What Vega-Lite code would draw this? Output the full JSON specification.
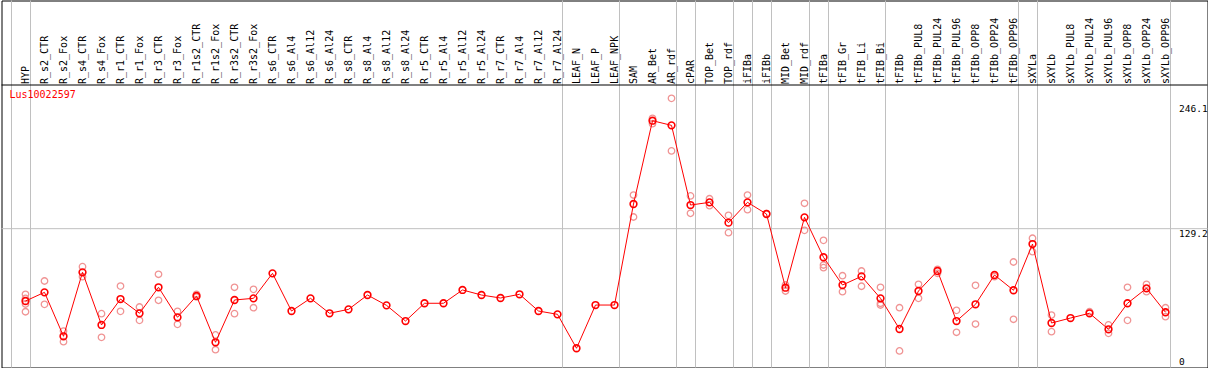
{
  "$schema": "https://vega.github.io/schema/vega-lite/v6.json",
  "width": 1206,
  "height": 367,
  "autosize": {"type": "none"},
  "padding": {"left": 1.5, "top": 0.5, "right": 0, "bottom": 0},
  "background": "white",
  "config": {"view": {"stroke": "#000000", "strokeWidth": 1}, "font": "DejaVu Sans Mono"},
  "title": {"text": "Lus10022597", "color": "#ff0000", "anchor": "start", "frame": "group", "font": "DejaVu Sans Mono", "fontSize": 10, "fontWeight": "normal", "baseline": "top", "offset": 0, "dx": 8, "dy": 100},
  "datasets": {
    "means": [
      {"col": "HYP", "v": 59.1}, {"col": "R_s2_CTR", "v": 67.5}, {"col": "R_s2_Fox", "v": 24.9}, {"col": "R_s4_CTR", "v": 86.9},
      {"col": "R_s4_Fox", "v": 35.9}, {"col": "R_r1_CTR", "v": 61.0}, {"col": "R_r1_Fox", "v": 47.2}, {"col": "R_r3_CTR", "v": 72.4},
      {"col": "R_r3_Fox", "v": 43.3}, {"col": "R_r1s2_CTR", "v": 64.0}, {"col": "R_r1s2_Fox", "v": 19.1}, {"col": "R_r3s2_CTR", "v": 60.1},
      {"col": "R_r3s2_Fox", "v": 61.7}, {"col": "R_s6_CTR", "v": 85.9}, {"col": "R_s6_Al4", "v": 49.4}, {"col": "R_s6_Al12", "v": 61.7},
      {"col": "R_s6_Al24", "v": 47.2}, {"col": "R_s8_CTR", "v": 51.0}, {"col": "R_s8_Al4", "v": 64.9}, {"col": "R_s8_Al12", "v": 54.9},
      {"col": "R_s8_Al24", "v": 39.7}, {"col": "R_r5_CTR", "v": 56.9}, {"col": "R_r5_Al4", "v": 56.9}, {"col": "R_r5_Al12", "v": 69.8},
      {"col": "R_r5_Al24", "v": 64.9}, {"col": "R_r7_CTR", "v": 62.0}, {"col": "R_r7_Al4", "v": 65.6}, {"col": "R_r7_Al12", "v": 49.4},
      {"col": "R_r7_Al24", "v": 46.2}, {"col": "LEAF_N", "v": 13.3}, {"col": "LEAF_P", "v": 55.2}, {"col": "LEAF_NPK", "v": 55.2},
      {"col": "SAM", "v": 153.1}, {"col": "AR_Bet", "v": 233.8}, {"col": "AR_rdf", "v": 229.3}, {"col": "cPAR", "v": 152.1},
      {"col": "TOP_Bet", "v": 154.7}, {"col": "TOP_rdf", "v": 135.0}, {"col": "iFIBa", "v": 154.7}, {"col": "iFIBb", "v": 143.4},
      {"col": "MID_Bet", "v": 72.0}, {"col": "MID_rdf", "v": 140.2}, {"col": "tFIBa", "v": 101.5}, {"col": "tFIB_Gr", "v": 74.6},
      {"col": "tFIB_Li", "v": 83.0}, {"col": "tFIB_Bi", "v": 61.7}, {"col": "tFIBb", "v": 32.0}, {"col": "tFIBb_PUL8", "v": 68.8},
      {"col": "tFIBb_PUL24", "v": 88.2}, {"col": "tFIBb_PUL96", "v": 39.7}, {"col": "tFIBb_OPP8", "v": 55.9}, {"col": "tFIBb_OPP24", "v": 84.3},
      {"col": "tFIBb_OPP96", "v": 69.5}, {"col": "sXYLa", "v": 114.3}, {"col": "sXYLb", "v": 37.8}, {"col": "sXYLb_PUL8", "v": 42.6},
      {"col": "sXYLb_PUL24", "v": 47.2}, {"col": "sXYLb_PUL96", "v": 31.7}, {"col": "sXYLb_OPP8", "v": 56.9}, {"col": "sXYLb_OPP24", "v": 71.4},
      {"col": "sXYLb_OPP96", "v": 48.2}
    ],
    "reps": [
      {"col": "HYP", "v": 65.6}, {"col": "HYP", "v": 61.7}, {"col": "HYP", "v": 56.2}, {"col": "HYP", "v": 48.7},
      {"col": "R_s2_CTR", "v": 78.5}, {"col": "R_s2_CTR", "v": 55.9},
      {"col": "R_s2_Fox", "v": 30.0}, {"col": "R_s2_Fox", "v": 19.7},
      {"col": "R_s4_CTR", "v": 92.4}, {"col": "R_s4_CTR", "v": 82.7},
      {"col": "R_s4_Fox", "v": 46.8}, {"col": "R_s4_Fox", "v": 23.9},
      {"col": "R_r1_CTR", "v": 73.6}, {"col": "R_r1_CTR", "v": 49.1},
      {"col": "R_r1_Fox", "v": 53.3}, {"col": "R_r1_Fox", "v": 40.4},
      {"col": "R_r3_CTR", "v": 85.0}, {"col": "R_r3_CTR", "v": 59.8},
      {"col": "R_r3_Fox", "v": 49.1}, {"col": "R_r3_Fox", "v": 36.5},
      {"col": "R_r1s2_CTR", "v": 65.6}, {"col": "R_r1s2_CTR", "v": 63.0},
      {"col": "R_r1s2_Fox", "v": 26.2}, {"col": "R_r1s2_Fox", "v": 11.9},
      {"col": "R_r3s2_CTR", "v": 72.4}, {"col": "R_r3s2_CTR", "v": 46.8},
      {"col": "R_r3s2_Fox", "v": 70.4}, {"col": "R_r3s2_Fox", "v": 52.6},
      {"col": "SAM", "v": 161.8}, {"col": "SAM", "v": 140.5},
      {"col": "AR_Bet", "v": 236.1}, {"col": "AR_Bet", "v": 230.9},
      {"col": "AR_rdf", "v": 255.5}, {"col": "AR_rdf", "v": 204.5},
      {"col": "cPAR", "v": 160.9}, {"col": "cPAR", "v": 144.1},
      {"col": "TOP_Bet", "v": 158.2}, {"col": "TOP_Bet", "v": 151.5},
      {"col": "TOP_rdf", "v": 142.1}, {"col": "TOP_rdf", "v": 125.3},
      {"col": "iFIBa", "v": 161.8}, {"col": "iFIBa", "v": 147.6},
      {"col": "iFIBb", "v": 143.8},
      {"col": "MID_Bet", "v": 68.8}, {"col": "MID_Bet", "v": 74.6},
      {"col": "MID_rdf", "v": 153.8}, {"col": "MID_rdf", "v": 127.6},
      {"col": "tFIBa", "v": 117.9}, {"col": "tFIBa", "v": 94.0}, {"col": "tFIBa", "v": 91.4},
      {"col": "tFIB_Gr", "v": 83.6}, {"col": "tFIB_Gr", "v": 68.1},
      {"col": "tFIB_Li", "v": 88.2}, {"col": "tFIB_Li", "v": 73.4},
      {"col": "tFIB_Bi", "v": 72.4}, {"col": "tFIB_Bi", "v": 56.9}, {"col": "tFIB_Bi", "v": 55.2},
      {"col": "tFIBb", "v": 52.6}, {"col": "tFIBb", "v": 10.7},
      {"col": "tFIBb_PUL8", "v": 75.3}, {"col": "tFIBb_PUL8", "v": 61.7},
      {"col": "tFIBb_PUL24", "v": 89.8}, {"col": "tFIBb_PUL24", "v": 85.9},
      {"col": "tFIBb_PUL96", "v": 50.1}, {"col": "tFIBb_PUL96", "v": 28.8},
      {"col": "tFIBb_OPP8", "v": 74.3}, {"col": "tFIBb_OPP8", "v": 36.8},
      {"col": "tFIBb_OPP24", "v": 82.7},
      {"col": "tFIBb_OPP96", "v": 96.9}, {"col": "tFIBb_OPP96", "v": 41.4},
      {"col": "sXYLa", "v": 119.9}, {"col": "sXYLa", "v": 106.9},
      {"col": "sXYLb", "v": 45.5}, {"col": "sXYLb", "v": 29.4},
      {"col": "sXYLb_PUL24", "v": 48.7},
      {"col": "sXYLb_PUL96", "v": 35.9}, {"col": "sXYLb_PUL96", "v": 27.8},
      {"col": "sXYLb_OPP8", "v": 72.4}, {"col": "sXYLb_OPP8", "v": 40.4},
      {"col": "sXYLb_OPP24", "v": 75.3}, {"col": "sXYLb_OPP24", "v": 68.1},
      {"col": "sXYLb_OPP96", "v": 52.6}, {"col": "sXYLb_OPP96", "v": 43.9}
    ],
    "seps": [
      {"col": "HYP"}, {"col": "R_r7_Al24"}, {"col": "LEAF_NPK"}, {"col": "AR_rdf"}, {"col": "cPAR"}, {"col": "TOP_rdf"},
      {"col": "iFIBa"}, {"col": "iFIBb"}, {"col": "MID_rdf"}, {"col": "tFIBa"}, {"col": "tFIB_Bi"}, {"col": "tFIBb_OPP96"},
      {"col": "sXYLa"}, {"col": "sXYLb_OPP96"}
    ],
    "first": [{"col": "HYP"}],
    "one": [{}]
  },
  "layer": [
    {
      "data": {"name": "means"},
      "mark": {"type": "line", "color": "#ff0000", "strokeWidth": 1, "opacity": 0},
      "encoding": {
        "x": {
          "field": "col", "type": "nominal",
          "scale": {
            "type": "point", "padding": 0, "range": [24, 1164], "round": false,
            "domain": ["HYP", "R_s2_CTR", "R_s2_Fox", "R_s4_CTR", "R_s4_Fox", "R_r1_CTR", "R_r1_Fox", "R_r3_CTR", "R_r3_Fox", "R_r1s2_CTR", "R_r1s2_Fox", "R_r3s2_CTR", "R_r3s2_Fox", "R_s6_CTR", "R_s6_Al4", "R_s6_Al12", "R_s6_Al24", "R_s8_CTR", "R_s8_Al4", "R_s8_Al12", "R_s8_Al24", "R_r5_CTR", "R_r5_Al4", "R_r5_Al12", "R_r5_Al24", "R_r7_CTR", "R_r7_Al4", "R_r7_Al12", "R_r7_Al24", "LEAF_N", "LEAF_P", "LEAF_NPK", "SAM", "AR_Bet", "AR_rdf", "cPAR", "TOP_Bet", "TOP_rdf", "iFIBa", "iFIBb", "MID_Bet", "MID_rdf", "tFIBa", "tFIB_Gr", "tFIB_Li", "tFIB_Bi", "tFIBb", "tFIBb_PUL8", "tFIBb_PUL24", "tFIBb_PUL96", "tFIBb_OPP8", "tFIBb_OPP24", "tFIBb_OPP96", "sXYLa", "sXYLb", "sXYLb_PUL8", "sXYLb_PUL24", "sXYLb_PUL96", "sXYLb_OPP8", "sXYLb_OPP24", "sXYLb_OPP96"]
          },
          "axis": {
            "orient": "top", "offset": -85, "labelAngle": -90, "title": null, "domain": false, "ticks": false, "grid": false,
            "labelPadding": 2, "labelOverlap": false, "labelBound": false, "labelFont": "DejaVu Sans Mono", "labelFontSize": 10, "labelColor": "#000000"
          }
        },
        "y": {
          "field": "v", "type": "quantitative",
          "scale": {"domain": [-5.33, 350.29], "nice": false, "zero": false},
          "axis": {
            "orient": "right", "values": [0, 129.2, 246.1], "format": ".1~f", "title": null, "domain": false, "ticks": false, "tickSize": 0, "grid": false,
            "labelAlign": "left", "labelPadding": -29, "labelFont": "DejaVu Sans Mono", "labelFontSize": 9.5, "labelColor": "#000000",
            "labelBaseline": {"condition": {"test": "datum.value > 100 && datum.value < 200", "value": "top"}, "value": "middle"},
            "labelFlush": false
          }
        }
      }
    },
    {
      "data": {"name": "seps"},
      "mark": {"type": "rule", "color": "#c0c0c0", "strokeWidth": 1, "xOffset": 5},
      "encoding": {"x": {"field": "col", "type": "nominal"}}
    },
    {
      "data": {"name": "first"},
      "mark": {"type": "rule", "color": "#c0c0c0", "strokeWidth": 1, "xOffset": -14},
      "encoding": {"x": {"field": "col", "type": "nominal"}}
    },
    {
      "data": {"name": "one"},
      "mark": {"type": "rule", "color": "#c0c0c0", "strokeWidth": 1},
      "encoding": {"y": {"datum": 129.2, "type": "quantitative"}}
    },
    {
      "data": {"name": "one"},
      "mark": {"type": "rule", "color": "#000000", "strokeWidth": 1},
      "encoding": {"y": {"datum": 268.4, "type": "quantitative"}}
    },
    {
      "data": {"name": "reps"},
      "mark": {"type": "point", "shape": "circle", "filled": false, "stroke": "#f09494", "strokeWidth": 1.3, "size": 42, "opacity": 1},
      "encoding": {
        "x": {"field": "col", "type": "nominal"},
        "y": {"field": "v", "type": "quantitative"}
      }
    },
    {
      "data": {"name": "means"},
      "mark": {"type": "line", "color": "#ff0000", "strokeWidth": 1},
      "encoding": {
        "x": {"field": "col", "type": "nominal"},
        "y": {"field": "v", "type": "quantitative"}
      }
    },
    {
      "data": {"name": "means"},
      "mark": {"type": "point", "shape": "circle", "filled": false, "stroke": "#ff0000", "strokeWidth": 1.6, "size": 45, "opacity": 1},
      "encoding": {
        "x": {"field": "col", "type": "nominal"},
        "y": {"field": "v", "type": "quantitative"}
      }
    }
  ]
}
